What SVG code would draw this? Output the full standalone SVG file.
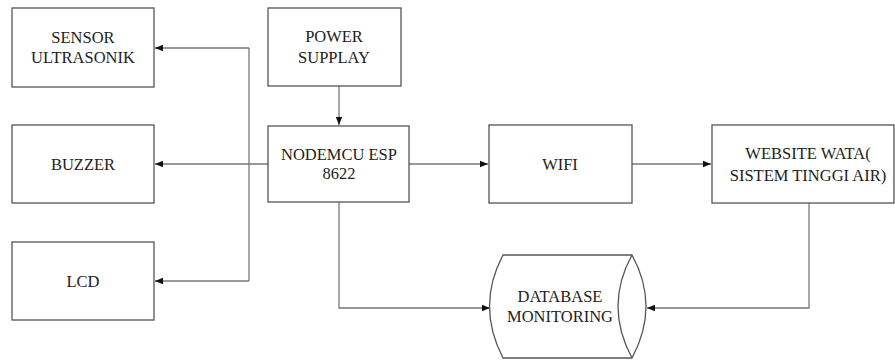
<svg xmlns="http://www.w3.org/2000/svg" width="895" height="360" viewBox="0 0 895 360">
<style>
.box{fill:#fff;stroke:#555;stroke-width:1.3}
.t{font-family:'Liberation Serif','Tinos','Times New Roman','Noto Serif','DejaVu Serif',serif;font-size:16.5px;fill:#222;text-anchor:middle}
.c{fill:none;stroke:#777;stroke-width:1.3}
</style>
<defs>
<marker id="ah" viewBox="0 0 8 8" refX="8" refY="4" markerWidth="8" markerHeight="8" markerUnits="userSpaceOnUse" orient="auto">
<path d="M0,0.8 L8,4 L0,7.2 Z" fill="#111"/>
</marker>
</defs>
<rect width="895" height="360" fill="#fff"/>
<g id="connectors">
<path class="c" d="M249,48 L249,281"/>
<path class="c" d="M249,48 L155,48" marker-end="url(#ah)"/>
<path class="c" d="M268,164 L155,164" marker-end="url(#ah)"/>
<path class="c" d="M249,281 L155,281" marker-end="url(#ah)"/>
<path class="c" d="M339,86 L339,125" marker-end="url(#ah)"/>
<path class="c" d="M409,164 L488,164" marker-end="url(#ah)"/>
<path class="c" d="M632,164 L711,164" marker-end="url(#ah)"/>
<path class="c" d="M339,202 L339,308 L490,308" marker-end="url(#ah)"/>
<path class="c" d="M809,203 L809,308 L647,308" marker-end="url(#ah)"/>
</g>
<g id="sensor">
<rect class="box" x="12" y="8" width="142" height="79"/>
<text class="t" x="83" y="43">SENSOR</text>
<text class="t" x="83" y="63">ULTRASONIK</text>
</g>
<g id="power">
<rect class="box" x="268" y="8" width="133" height="78"/>
<text class="t" x="334" y="42">POWER</text>
<text class="t" x="334" y="63">SUPPLAY</text>
</g>
<g id="buzzer">
<rect class="box" x="12" y="125" width="142" height="78"/>
<text class="t" x="83" y="170">BUZZER</text>
</g>
<g id="nodemcu">
<rect class="box" x="268" y="126" width="141" height="76"/>
<text class="t" x="339" y="160">NODEMCU ESP</text>
<text class="t" x="339" y="179">8622</text>
</g>
<g id="lcd">
<rect class="box" x="12" y="242" width="142" height="78"/>
<text class="t" x="83" y="287">LCD</text>
</g>
<g id="wifi">
<rect class="box" x="489" y="125" width="143" height="78"/>
<text class="t" x="560" y="170">WIFI</text>
</g>
<g id="website">
<rect class="box" x="712" y="125" width="182" height="78"/>
<text class="t" x="808" y="159">WEBSITE WATA(</text>
<text class="t" x="808" y="181">SISTEM TINGGI AIR)</text>
</g>
<g id="database">
<path class="box" d="M503,255 L632,255 Q660,306 632,358 L503,358 Q476,306 503,255 Z"/>
<path class="box" d="M632,255 Q604,306 632,358"/>
<text class="t" x="560" y="302">DATABASE</text>
<text class="t" x="560" y="322">MONITORING</text>
</g>
</svg>
